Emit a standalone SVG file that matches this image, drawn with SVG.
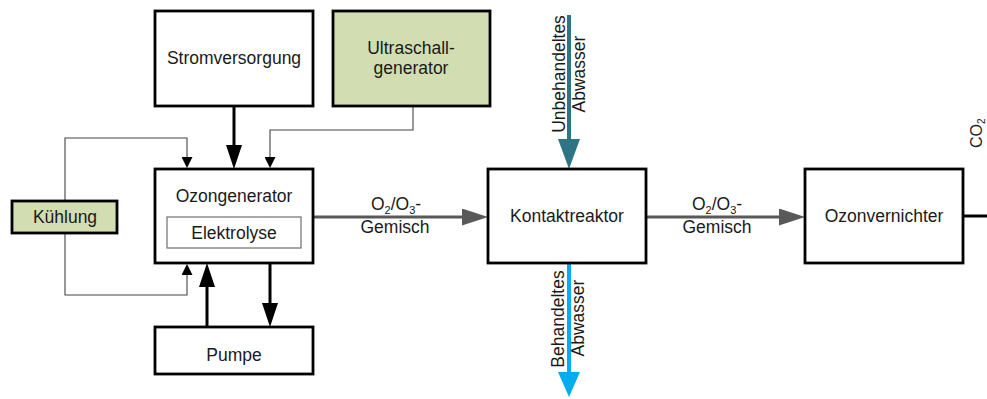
<svg xmlns="http://www.w3.org/2000/svg" width="987" height="399" viewBox="0 0 987 399">
  <style>
    .box { fill: #ffffff; stroke: #000000; stroke-width: 2.8; }
    .green { fill: #d2deb1; stroke: #000000; stroke-width: 2.8; }
    .inner { fill: #ffffff; stroke: #6e6e6e; stroke-width: 1.2; }
    .lbl { font-family: "Liberation Sans", Arial, sans-serif; font-size: 17.5px; fill: #1a1a1a; text-anchor: middle; }
    .sub { font-size: 11px; }
    .co2 { font-family: "Liberation Sans", Arial, sans-serif; font-size: 16px; fill: #1a1a1a; text-anchor: start; }
    .thick { fill: none; stroke: #000000; stroke-width: 3; }
    .thin { fill: none; stroke: #444444; stroke-width: 1.1; }
    .gas { fill: none; stroke: #595959; stroke-width: 3; }
    .raw { fill: none; stroke: #2e7485; stroke-width: 4; }
    .clean { fill: none; stroke: #00aeef; stroke-width: 4; }
  </style>
  <defs>
    <marker id="ahThick" markerUnits="userSpaceOnUse" markerWidth="24" markerHeight="16" refX="14" refY="8" orient="auto">
      <path d="M0,0 L24,8 L0,16 z" fill="#000000"/>
    </marker>
    <marker id="ahThin" markerUnits="userSpaceOnUse" markerWidth="11" markerHeight="11" refX="6" refY="5.5" orient="auto">
      <path d="M0,0 L11,5.5 L0,11 z" fill="#000000"/>
    </marker>
    <marker id="ahGas" markerUnits="userSpaceOnUse" markerWidth="26" markerHeight="17" refX="16" refY="8.5" orient="auto">
      <path d="M0,0 L26,8.5 L0,17 z" fill="#595959"/>
    </marker>
    <marker id="ahRaw" markerUnits="userSpaceOnUse" markerWidth="30" markerHeight="22" refX="19" refY="11" orient="auto">
      <path d="M0,0 L30,11 L0,22 z" fill="#2e7485"/>
    </marker>
    <marker id="ahClean" markerUnits="userSpaceOnUse" markerWidth="25" markerHeight="22" refX="15" refY="11" orient="auto">
      <path d="M0,0 L25,11 L0,22 z" fill="#00aeef"/>
    </marker>
  </defs>

  <!-- connectors -->
  <g id="connectors">
    <path class="thick" d="M234,106 V159" marker-end="url(#ahThick)"/>
    <path class="thin" d="M413,106 V130 H270 V163" marker-end="url(#ahThin)"/>
    <path class="thin" d="M65,201 V138 H187 V163" marker-end="url(#ahThin)"/>
    <path class="thin" d="M65,233 V295 H187 V269" marker-end="url(#ahThin)"/>
    <path class="thick" d="M207,327 V273" marker-end="url(#ahThick)"/>
    <path class="thick" d="M270,263 V317" marker-end="url(#ahThick)"/>
    <path class="gas" d="M313,217 H478" marker-end="url(#ahGas)"/>
    <path class="gas" d="M646,217 H795" marker-end="url(#ahGas)"/>
    <path class="raw" d="M569,15 V158" marker-end="url(#ahRaw)"/>
    <path class="clean" d="M569,263 V387" marker-end="url(#ahClean)"/>
    <path class="thick" d="M963,216 H987"/>

    <text class="lbl" x="396" y="210">O<tspan class="sub" dy="4">2</tspan><tspan dy="-4">/O</tspan><tspan class="sub" dy="4">3</tspan><tspan dy="-4">-</tspan></text>
    <text class="lbl" x="395" y="233">Gemisch</text>
    <text class="lbl" x="717" y="210">O<tspan class="sub" dy="4">2</tspan><tspan dy="-4">/O</tspan><tspan class="sub" dy="4">3</tspan><tspan dy="-4">-</tspan></text>
    <text class="lbl" x="717" y="233">Gemisch</text>

    <text class="lbl" transform="translate(565,74) rotate(-90)">Unbehandeltes</text>
    <text class="lbl" transform="translate(585,74) rotate(-90)">Abwasser</text>
    <text class="lbl" transform="translate(564,319) rotate(-90)">Behandeltes</text>
    <text class="lbl" transform="translate(584,318) rotate(-90)">Abwasser</text>
    <text class="co2" transform="translate(982,148) rotate(-90)">CO<tspan style="font-size:10px" dy="3">2</tspan></text>
  </g>

  <g id="stromversorgung">
    <rect class="box" x="155" y="11" width="158" height="95"/>
    <text class="lbl" x="234" y="64">Stromversorgung</text>
  </g>

  <g id="ultraschallgenerator">
    <rect class="green" x="333" y="11" width="157" height="95"/>
    <text class="lbl" x="411" y="54">Ultraschall-</text>
    <text class="lbl" x="411" y="74">generator</text>
  </g>

  <g id="kuehlung">
    <rect class="green" x="12" y="201" width="105" height="32"/>
    <text class="lbl" x="65" y="223">Kühlung</text>
  </g>

  <g id="ozongenerator">
    <rect class="box" x="155" y="169" width="158" height="94"/>
    <text class="lbl" x="234" y="202">Ozongenerator</text>
    <rect class="inner" x="167" y="217" width="134" height="31"/>
    <text class="lbl" x="234" y="239">Elektrolyse</text>
  </g>

  <g id="pumpe">
    <rect class="box" x="155" y="327" width="158" height="47"/>
    <text class="lbl" x="234" y="361">Pumpe</text>
  </g>

  <g id="kontaktreaktor">
    <rect class="box" x="488" y="169" width="158" height="94"/>
    <text class="lbl" x="567" y="222">Kontaktreaktor</text>
  </g>

  <g id="ozonvernichter">
    <rect class="box" x="805" y="169" width="158" height="94"/>
    <text class="lbl" x="884" y="222">Ozonvernichter</text>
  </g>
</svg>
